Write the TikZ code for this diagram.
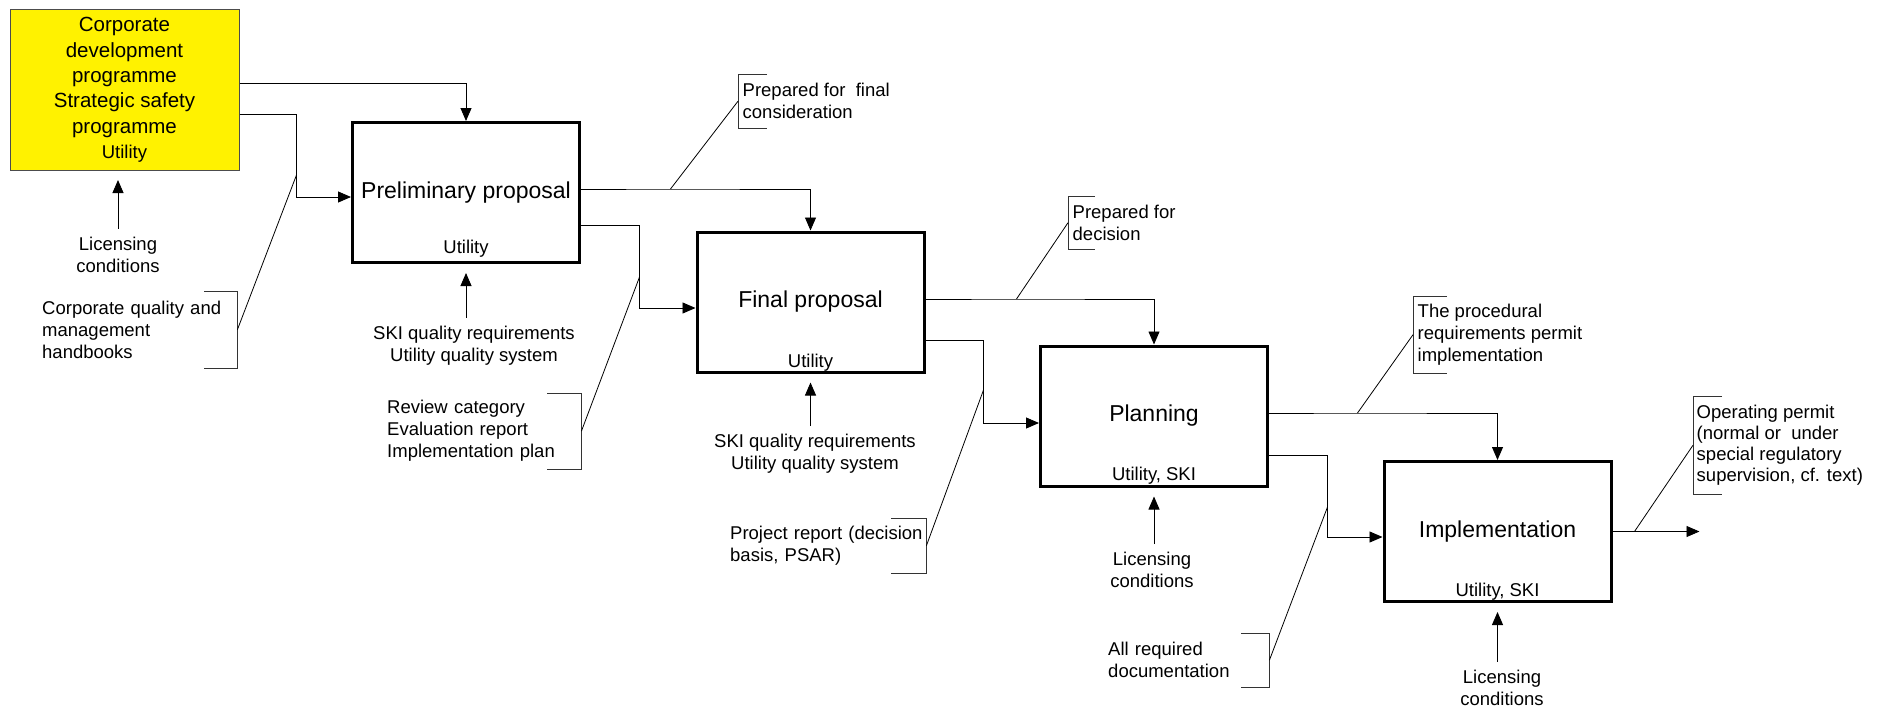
\documentclass[tikz,border=0pt]{standalone}
\usepackage{fontspec}
\setmainfont{Liberation Sans}
\usetikzlibrary{arrows.meta, positioning, calc}
\tikzset{
  stepbox/.style = {rectangle, draw=black, line width=3pt,
                    minimum width=227pt, minimum height=140pt,
                    align=center, font=\fontsize{23}{27}\selectfont},
  owner/.style   = {inner sep=0pt, font=\fontsize{18.5}{22}\selectfont},
  flow/.style    = {line width=0.9pt, -{Triangle[length=13pt,width=11pt]}},
  brace/.style   = {line width=0.9pt, draw=black!80}
}

\begin{document}
\begin{tikzpicture}[
    x=1pt, y=-1pt,
    note/.style    = {inner sep=0pt, align=left, font=\fontsize{18.5}{22}\selectfont},
    outnote/.style = {note, inner xsep=4.5pt, anchor=north west},
    ctrl/.style    = {inner sep=0pt, align=center, font=\fontsize{18.5}{22}\selectfont},
    lead/.style    = {line width=0.8pt}
]
\useasboundingbox (0,0) rectangle (1879,707);

% Programme box
\node[draw=black!70, fill=yellow, line width=1pt, minimum width=229pt,
      minimum height=161pt, align=center, inner sep=0pt,
      font=\fontsize{20.5}{25.3}\selectfont
] at (124.5, 90) (corp) {
    Corporate\\development\\programme\\Strategic safety\\programme\\{\fontsize{18.5}{22}\selectfont Utility}
};

\node[ctrl] at ($(corp.south) + (-6.5, 83.5)$) (lic1) {Licensing\\conditions};
\draw[flow] ([yshift=8pt]lic1.north) -- ([yshift=-9pt]lic1.north |- corp.south);

% Process chain
\node[stepbox] at (466, 192.5) (pp) {Preliminary proposal};
\node[owner] at ($(pp.south) + (0, -15.5)$) (ppby) {Utility};

\node[stepbox] at ($(pp.center) + (344.5, 109.5)$) (fp) {Final proposal};
\node[owner] at ($(fp.south) + (0, -10.5)$) (fpby) {Utility};

\node[stepbox] at ($(fp.center) + (343.5, 114)$) (plan) {Planning};
\node[owner] at ($(plan.south) + (0, -11.5)$) (planby) {Utility, SKI};

\node[stepbox] at ($(plan.center) + (343.5, 115.5)$) (impl) {Implementation};
\node[owner] at ($(impl.south) + (0, -11.5)$) (implby) {Utility, SKI};

% Controls from below
\node[ctrl] at ($(pp.south) + (8, 81.5)$) (ski1) {SKI quality requirements\\Utility quality system};
\draw[flow] ([yshift=8pt]ski1.north -| pp.south) -- ([yshift=-9pt]pp.south);

\node[ctrl] at ($(fp.south) + (4.5, 80.5)$) (ski2) {SKI quality requirements\\Utility quality system};
\draw[flow] ([yshift=8pt]ski2.north -| fp.south) -- ([yshift=-9pt]fp.south);

\node[ctrl] at ($(plan.south) + (-2, 82.5)$) (lic2) {Licensing\\conditions};
\draw[flow] ([yshift=8pt]lic2.north -| plan.south) -- ([yshift=-9pt]plan.south);

\node[ctrl] at ($(impl.south) + (4.5, 84.5)$) (lic3) {Licensing\\conditions};
\draw[flow] ([yshift=8pt]lic3.north -| impl.south) -- ([yshift=-9pt]impl.south);

% Flows between the steps
\draw[flow] ([yshift=7pt]corp.east) -| (pp.north);
\draw[flow] ([yshift=-24pt]corp.east) -- ++(57,0) coordinate (c1) |- ([yshift=-4.5pt]pp.west);

\draw[flow] ([yshift=3.5pt]pp.east) -- ++(89.5,0) coordinate (t5) -| (fp.north);
\draw[flow] ([yshift=-32.5pt]pp.east) -- ++(58.5,0) coordinate (c2) |- ([yshift=-6pt]fp.west);

\draw[flow] ([yshift=3pt]fp.east) -- ++(91,0) coordinate (t6) -| (plan.north);
\draw[flow] ([yshift=-38pt]fp.east) -- ++(58,0) coordinate (c3) |- ([yshift=-7pt]plan.west);

\draw[flow] ([yshift=3pt]plan.east) -- ++(88.5,0) coordinate (t7) -| (impl.north);
\draw[flow] ([yshift=-39pt]plan.east) -- ++(58.5,0) coordinate (c4) |- ([yshift=-5.5pt]impl.west);

\coordinate (out) at ($(impl.east) + (87, 0)$);
\draw[flow] (impl.east) -- ++(22,0) coordinate (t8) -- (out);

\coordinate (t1) at ($(c1) + (0, 61)$);
\coordinate (t2) at ($(c2) + (0, 52)$);
\coordinate (t3) at ($(c3) + (0, 50)$);
\coordinate (t4) at ($(c4) + (0, 52)$);

% Input documents
\node[note, anchor=north west, text width=195pt, minimum height=77pt] at (42, 291) (cqm) {Corporate quality and\\management\\handbooks};
\draw[brace] ([xshift=-33pt]cqm.north east) -- (cqm.north east) -- (cqm.south east) -- ([xshift=-33pt]cqm.south east);
\draw[lead] (cqm.east) -- (t1);

\node[note, anchor=north west, text width=194pt, minimum height=76pt] at (387, 393) (rev) {Review category\\Evaluation report\\Implementation plan};
\draw[brace] ([xshift=-34pt]rev.north east) -- (rev.north east) -- (rev.south east) -- ([xshift=-34pt]rev.south east);
\draw[lead] (rev.east) -- (t2);

\node[note, anchor=north west, text width=196pt, minimum height=55pt] at (730, 518) (prj) {Project report (decision\\basis, PSAR)};
\draw[brace] ([xshift=-35pt]prj.north east) -- (prj.north east) -- (prj.south east) -- ([xshift=-35pt]prj.south east);
\draw[lead] (prj.east) -- (t3);

\node[note, anchor=north west, text width=161pt, minimum height=54pt] at (1108, 633) (doc) {All required\\documentation};
\draw[brace] ([xshift=-28pt]doc.north east) -- (doc.north east) -- (doc.south east) -- ([xshift=-28pt]doc.south east);
\draw[lead] (doc.east) -- (t4);

% Output states
\node[outnote, minimum height=54pt] at (738, 74) (o1) {Prepared for\ \ final\\consideration};
\draw[brace] ([xshift=29pt]o1.north west) -- (o1.north west) -- (o1.south west) -- ([xshift=29pt]o1.south west);
\draw[lead] (t5) -- (o1.west);

\node[outnote, minimum height=53pt] at (1068, 196) (o2) {Prepared for\\decision};
\draw[brace] ([xshift=27pt]o2.north west) -- (o2.north west) -- (o2.south west) -- ([xshift=27pt]o2.south west);
\draw[lead] (t6) -- (o2.west);

\node[outnote, minimum height=77pt] at (1413, 296) (o3) {The procedural\\requirements permit\\implementation};
\draw[brace] ([xshift=34pt]o3.north west) -- (o3.north west) -- (o3.south west) -- ([xshift=34pt]o3.south west);
\draw[lead] (t7) -- (o3.west);

\node[outnote, minimum height=98pt, inner xsep=3.5pt, font=\fontsize{18.5}{21.2}\selectfont] at (1693, 396) (o4) {Operating permit\\(normal or\ \ under\\special regulatory\\supervision, cf. text)};
\draw[brace] ([xshift=29pt]o4.north west) -- (o4.north west) -- (o4.south west) -- ([xshift=29pt]o4.south west);
\draw[lead] (t8) -- (o4.west);

\end{tikzpicture}
\end{document}
